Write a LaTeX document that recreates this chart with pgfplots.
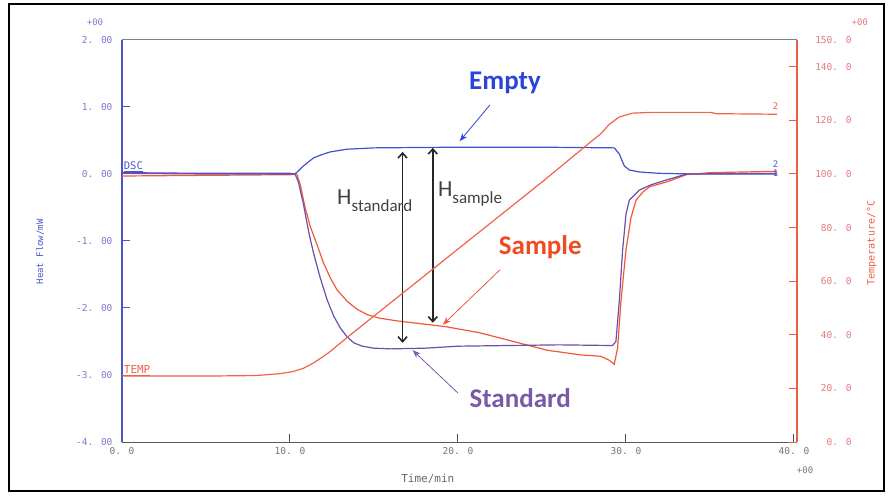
\documentclass[border=0pt]{standalone}
\usepackage{fontspec}
\setmainfont{Carlito}
\newfontfamily\monofont{DejaVu Sans Mono}
\usepackage{pgfplots}
\pgfplotsset{compat=1.18}
\usetikzlibrary{arrows.meta}
\definecolor{axblue}{HTML}{4A55C8}
\definecolor{tickblue}{HTML}{7A7ACC}
\definecolor{axred}{HTML}{E8604A}
\definecolor{tickred}{HTML}{E07A7A}
\definecolor{cEmpty}{HTML}{4050D0}
\definecolor{cStd}{HTML}{6E4EA6}
\definecolor{cSample}{HTML}{F0583C}
\definecolor{cTemp}{HTML}{F06448}
\definecolor{tEmpty}{HTML}{2A45D8}
\definecolor{tSample}{HTML}{F04A20}
\definecolor{tStd}{HTML}{7A5AA8}
\begin{document}
\begin{tikzpicture}[x=1pt,y=1pt]
\useasboundingbox (0,0) rectangle (890,495);
\draw[line width=2.5pt] (9,4) rectangle (884,491);

\begin{axis}[
  at={(122pt,53pt)}, anchor=south west,
  scale only axis, width=675pt, height=402pt,
  xmin=0, xmax=40.18, ymin=-4, ymax=2,
  axis x line*=bottom, axis y line*=left,
  x axis line style={color=black!65, line width=1pt, -},
  y axis line style={color=axblue, line width=1.2pt, -},
  tick align=inside, major tick length=8pt,
  xtick style={color=black!70, line width=1pt},
  ytick style={color=axblue, line width=1pt},
  xtick={0,10,20,30,40},
  xticklabels={0. 0,10. 0,20. 0,30. 0,40. 0},
  ytick={-4,-3,-2,-1,0,1,2},
  yticklabels={-4. 00,-3. 00,-2. 00,-1. 00,0. 00,1. 00,2. 00},
  xticklabel style={font=\monofont\fontsize{9.5}{10}\selectfont, text=black!55, yshift=-2pt},
  yticklabel style={font=\monofont\fontsize{9.5}{10}\selectfont, text=tickblue, xshift=-6pt},
  xlabel={Time/min},
  xlabel style={at={(axis description cs:0.453,-0.092)}, anchor=center, font=\monofont\fontsize{11}{12}\selectfont, text=black!60},
  ylabel={Heat Flow/mW},
  ylabel style={at={(axis description cs:-0.1215,0.473)}, anchor=center, rotate=0, font=\monofont\fontsize{9}{10}\selectfont, text=axblue},
  clip=false,
]
% Empty (blue)
\addplot[color=cEmpty, line width=1.2pt] coordinates {
(0,0.02) (5,0.01) (10,0.01) (10.3,0.0) (10.8,0.12) (11.4,0.24) (11.9,0.29) (12.4,0.33) (13.4,0.37) (15,0.39) (20,0.40) (25,0.40) (29.3,0.39)
(29.6,0.3) (29.9,0.12) (30.2,0.06) (30.8,0.03) (32,0.01) (34,0.0) (39,0.0)};
% Sample (red)
\addplot[color=cSample, line width=1.2pt] coordinates {
(0,-0.03) (5,-0.02) (10,-0.01) (10.4,0.0) (10.6,-0.15) (10.9,-0.5) (11.2,-0.78) (11.6,-1.05) (12,-1.33) (12.4,-1.55) (12.8,-1.73)
(13.4,-1.9) (14,-2.02) (14.6,-2.1) (15.3,-2.15) (16.3,-2.19)
(17.3,-2.22) (19.3,-2.28) (21.3,-2.37) (23.3,-2.5) (25.3,-2.63) (27.3,-2.70) (28.5,-2.72) (29.0,-2.78) (29.3,-2.84)
(29.5,-2.6) (29.7,-1.9) (30.0,-1.13) (30.3,-0.65) (30.6,-0.39) (31.0,-0.27) (31.4,-0.19) (32.4,-0.12) (33.6,-0.01) (35,0.02) (39,0.04)};
% Standard (purple)
\addplot[color=cStd, line width=1.2pt] coordinates {
(0,0.01) (5,0.0) (10,0.0) (10.3,0.0) (10.5,-0.12) (10.8,-0.45) (11.1,-0.85) (11.4,-1.18) (11.8,-1.55) (12.2,-1.87) (12.6,-2.12)
(13,-2.3) (13.4,-2.43) (13.8,-2.52) (14.3,-2.57) (15,-2.6)
(16,-2.61) (18,-2.6) (20,-2.57) (23,-2.56) (26,-2.55) (29.2,-2.56) (29.4,-2.5) (29.6,-1.9) (29.8,-1.13) (30.0,-0.6) (30.2,-0.39)
(30.8,-0.24) (31.5,-0.16) (32.4,-0.09) (33.6,0.0) (39,0.01)};

\node[anchor=base west, font=\monofont\fontsize{10.5}{11}\selectfont, text=axblue, inner sep=0pt] at (axis cs:0.1,0.06) {\underline{DSC}};
\node[anchor=base west, font=\monofont\fontsize{11}{12}\selectfont, text=axred, inner sep=0pt] at (axis cs:0.1,-2.98) {\underline{TEMP}};
\node[anchor=base, font=\monofont\fontsize{9}{10}\selectfont, text=cStd, inner sep=0pt] at (axis cs:38.9,-0.03) {1};
\node[anchor=base, font=\monofont\fontsize{9}{10}\selectfont, text=axblue, inner sep=0pt] at (axis cs:38.9,0.1) {2};

\node[font=\monofont\fontsize{9}{10}\selectfont, text=tickblue] at (axis description cs:-0.04,1.045) {+00};
\node[font=\monofont\fontsize{9}{10}\selectfont, text=tickred] at (axis description cs:1.093,1.045) {+00};
\node[font=\monofont\fontsize{9}{10}\selectfont, text=black!55] at (axis description cs:1.012,-0.07) {+00};

% annotations
\draw[tEmpty, line width=0.8pt, -{Stealth[length=8pt,width=6pt]}] (axis cs:21.9,1.03) -- (axis cs:20.1,0.49);
\draw[cSample, line width=0.8pt, -{Stealth[length=8pt,width=6pt]}] (axis cs:22.5,-1.43) -- (axis cs:19.1,-2.25);
\draw[tStd, line width=0.8pt, -{Stealth[length=8pt,width=6pt]}] (axis cs:20.0,-3.27) -- (axis cs:17.3,-2.63);
\draw[black!85, line width=1.6pt, {Straight Barb[length=5pt,width=9pt]}-{Straight Barb[length=5pt,width=9pt]}] (axis cs:16.7,0.33) -- (axis cs:16.7,-2.52);
\draw[black!85, line width=1.6pt, {Straight Barb[length=5pt,width=9pt]}-{Straight Barb[length=5pt,width=9pt]}] (axis cs:18.5,0.39) -- (axis cs:18.5,-2.22);
\node[font=\bfseries\fontsize{27}{30}\selectfont, text=tEmpty] at (axis cs:22.8,1.36) {Empty};
\node[font=\bfseries\fontsize{27}{30}\selectfont, text=tSample] at (axis cs:24.9,-1.09) {Sample};
\node[font=\bfseries\fontsize{27}{30}\selectfont, text=tStd] at (axis cs:23.7,-3.34) {Standard};
\node[anchor=base west, inner sep=0pt, text=black!75, font=\fontsize{23}{26}\selectfont] at (axis cs:12.8,-0.46) {H\raisebox{-0.3em}{\fontsize{17}{20}\selectfont standard}};
\node[anchor=base west, inner sep=0pt, text=black!75, font=\fontsize{23}{26}\selectfont] at (axis cs:18.8,-0.34) {H\raisebox{-0.3em}{\fontsize{17}{20}\selectfont sample}};
\end{axis}

\begin{axis}[
  at={(122pt,53pt)}, anchor=south west,
  scale only axis, width=675pt, height=402pt,
  xmin=0, xmax=40.18, ymin=0, ymax=150,
  axis x line*=top, axis y line*=right,
  x axis line style={color=black!50, line width=1pt, -},
  y axis line style={color=axred, line width=1.2pt, -},
  xtick=\empty,
  tick align=inside, major tick length=8pt,
  ytick style={color=axred, line width=1pt},
  ytick={0,20,40,60,80,100,120,140,150},
  yticklabels={0. 0,20. 0,40. 0,60. 0,80. 0,100. 0,120. 0,140. 0,150. 0},
  yticklabel style={anchor=east, xshift=58pt, font=\monofont\fontsize{9.5}{10}\selectfont, text=tickred},
  ylabel={Temperature/°C},
  ylabel style={at={(axis description cs:1.111,0.495)}, anchor=center, rotate=0, font=\monofont\fontsize{10}{11}\selectfont, text=axred},
  clip=false,
]
\addplot[color=cTemp, line width=1.2pt] coordinates {
(0,24.6) (5,24.6) (8,24.8) (9.4,25.5) (10.2,26.3) (10.8,27.5) (11.4,29.5) (12,32) (12.4,33.8) (13.4,39) (15,47) (20,72) (25,97)
(28,112.5) (28.5,115) (29,118.5) (29.6,121.3) (30.4,122.7) (31.5,123) (35,123) (35.4,122.5) (39,122.3)};
\node[anchor=base, font=\monofont\fontsize{9}{10}\selectfont, text=axred, inner sep=0pt] at (axis cs:38.9,124) {2};
\end{axis}
\end{tikzpicture}
\end{document}
